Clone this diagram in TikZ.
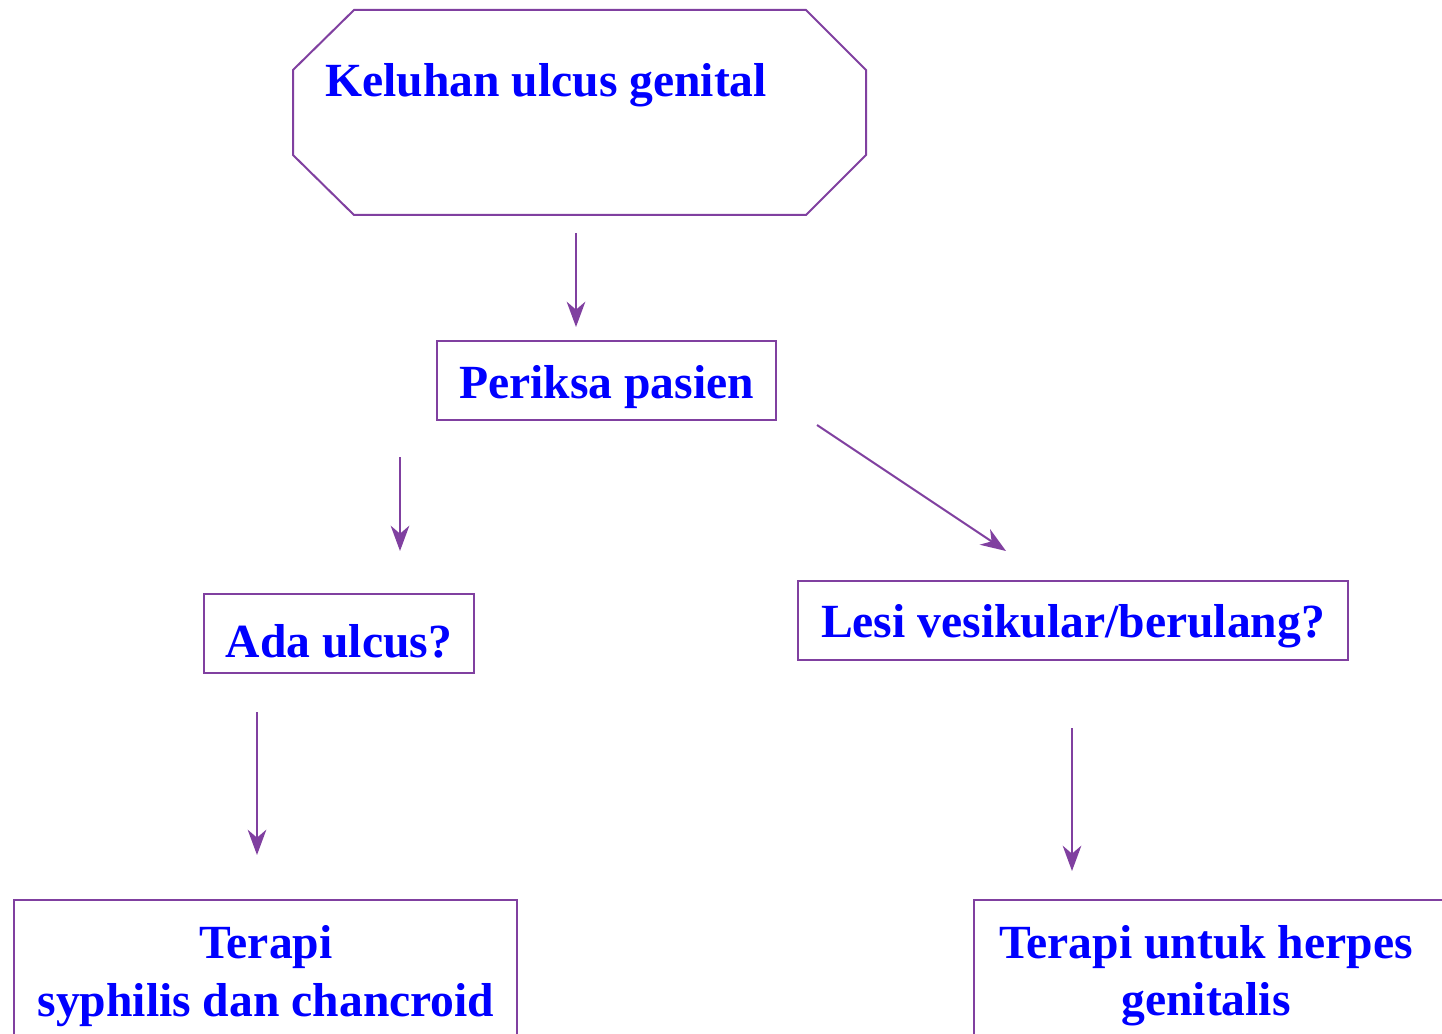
\documentclass[tikz,border=0pt]{standalone}
\usepackage{fontspec}
\setmainfont{Liberation Serif}
\usetikzlibrary{arrows.meta}
\definecolor{boxpurple}{RGB}{128,64,160}
\definecolor{txtblue}{RGB}{0,0,255}
\tikzset{
  pbox/.style={draw=boxpurple, line width=1.5pt, fill=none},
  ptext/.style={text=txtblue, font=\fontsize{35.7}{43}\selectfont\bfseries, inner sep=0pt},
  parrow/.style={draw=boxpurple, line width=1.5pt, -{Stealth[length=19pt,width=14pt,inset=6pt]}}
}
\begin{document}
\begin{tikzpicture}[x=0.75pt,y=-0.75pt]
\useasboundingbox (0,0) rectangle (1442,1034);
\begin{scope}
\clip (0,0) rectangle (1442,1034);
% octagon
\draw[pbox] (354,10) -- (806,10) -- (866,70) -- (866,155) -- (806,215) -- (354,215) -- (293,155) -- (293,70) -- cycle;
\node[ptext, anchor=base west] (keluhan) at (325,97) {Keluhan ulcus genital};
% boxes
\draw[pbox] (437,341) rectangle (776,420);
\node[ptext] (periksa) at (606.5,387) {Periksa pasien};
\draw[pbox] (204,594) rectangle (474,673);
\node[ptext] (ada) at (339,641) {Ada ulcus?};
\draw[pbox] (798,581) rectangle (1348,660);
\node[ptext] (lesi) at (1073,626) {Lesi vesikular/berulang?};
\draw[pbox] (14,900) rectangle (517,1060);
\node[ptext, align=center] (terapiA) at (266,976) {Terapi\\syphilis dan chancroid};
\draw[pbox] (974,900) rectangle (1460,1060);
\node[ptext, align=center] (terapiB) at (1206,976) {Terapi untuk herpes\\genitalis};
% arrow endpoints
\coordinate (a1s) at (576,233); \coordinate (a1e) at (576,327);
\coordinate (a2s) at (400,457); \coordinate (a2e) at (400,551);
\coordinate (a3s) at (817,425); \coordinate (a3e) at (1006,551);
\coordinate (a4s) at (257,712); \coordinate (a4e) at (257,855);
\coordinate (a5s) at (1072,728); \coordinate (a5e) at (1072,871);
\draw[parrow] (a1s) -- (a1e);
\draw[parrow] (a2s) -- (a2e);
\draw[parrow] (a3s) -- (a3e);
\draw[parrow] (a4s) -- (a4e);
\draw[parrow] (a5s) -- (a5e);
\end{scope}
\end{tikzpicture}
\end{document}
